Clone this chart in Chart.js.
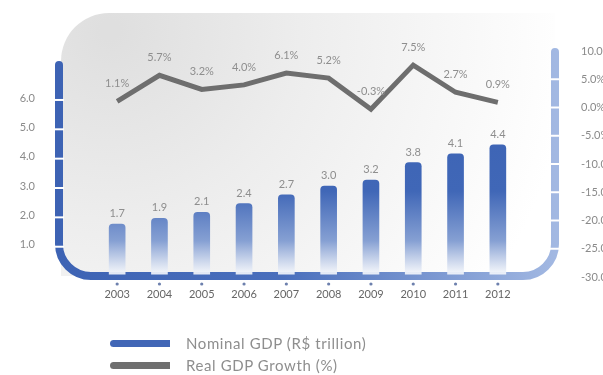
<!DOCTYPE html>
<html>
<head>
<meta charset="utf-8">
<script src="https://cdn.jsdelivr.net/npm/chart.js@4.4.1/dist/chart.umd.min.js"></script>
<style>
    body { margin: 0; background: #fff; }
    #wrap { position: relative; width: 603px; height: 375px; overflow: hidden; }
    .leyenda { position: absolute; left: 110px; font-family: Lato, sans-serif; font-size: 15px; letter-spacing: 0.6px; color: #8e8e8e; }
    .leyenda div { position: relative; height: 22px; line-height: 22px; padding-left: 76px; }
    .leyenda span { position: absolute; left: 0; top: 8px; width: 60px; height: 7px; border-radius: 4px 0 0 4px; }
</style>
</head>
<body>
<div id="wrap">
    <canvas id="grafico" width="603" height="375"></canvas>
    <div class="leyenda" style="top: 332px;">
        <div><span style="background:#4166b6"></span>Nominal GDP (R$ trillion)</div>
        <div><span style="background:#6f6f6f"></span>Real GDP Growth (%)</div>
    </div>
</div>
<script>
// Datos
const years = ['2003', '2004', '2005', '2006', '2007', '2008', '2009', '2010', '2011', '2012'];
const nominalGdp = [1.7, 1.9, 2.1, 2.4, 2.7, 3.0, 3.2, 3.8, 4.1, 4.4];
const realGrowth = [1.1, 5.7, 3.2, 4.0, 6.1, 5.2, -0.3, 7.5, 2.7, 0.9];
const leftTicks = [1, 2, 3, 4, 5, 6];
const rightTicks = [10, 5, 0, -5, -10, -15, -20, -25, -30];

const tickColor = '#8a8a8a';
const tickFont = { family: 'Lato, sans-serif', size: 11 };

/**
 * Fondo gris y marco azul con curvas
 */
const marcoPlugin = {
    id: 'marco',
    beforeDatasetsDraw(chart) {
        const { ctx, chartArea } = chart;
        const yL = chart.scales.y;
        const yR = chart.scales.y1;
        const xL = chartArea.left - 37;
        const xR = chartArea.right + 36;
        const yB = chartArea.bottom - 1;
        const r = 32;

        ctx.save();
        // Fondo gris
        const bg = ctx.createRadialGradient(110, 30, 10, 110, 30, 460);
        bg.addColorStop(0, '#dfdfdf');
        bg.addColorStop(0.4, '#ededed');
        bg.addColorStop(0.8, '#f9f9f9');
        bg.addColorStop(1, '#ffffff');
        ctx.beginPath();
        ctx.moveTo(xL + 2, yB);
        ctx.lineTo(xL + 2, 62);
        ctx.arcTo(xL + 2, 13, xL + 52, 13, 48);
        ctx.lineTo(xR, 13);
        ctx.lineTo(xR, yB);
        ctx.closePath();
        ctx.fillStyle = bg;
        ctx.fill();

        // Marco azul
        const grad = ctx.createLinearGradient(xL, 0, xR, 0);
        grad.addColorStop(0, '#3d63b4');
        grad.addColorStop(0.45, '#4a6fbc');
        grad.addColorStop(1, '#a2b8e2');
        ctx.beginPath();
        ctx.moveTo(xL, chartArea.top + 14);
        ctx.lineTo(xL, yB - r);
        ctx.arcTo(xL, yB, xL + r, yB, r);
        ctx.lineTo(xR - r, yB);
        ctx.arcTo(xR, yB, xR, yB - r, r);
        ctx.lineTo(xR, chartArea.top + 1);
        ctx.strokeStyle = grad;
        ctx.lineWidth = 8;
        ctx.lineCap = 'round';
        ctx.stroke();

        // Separaciones blancas
        ctx.strokeStyle = '#ffffff';
        ctx.lineWidth = 2;
        ctx.lineCap = 'butt';
        leftTicks.forEach(v => {
            const py = yL.getPixelForValue(v) + 2;
            ctx.beginPath();
            ctx.moveTo(xL - 5, py);
            ctx.lineTo(xL + 5, py);
            ctx.stroke();
        });
        rightTicks.slice(1, -1).forEach(v => {
            const py = yR.getPixelForValue(v);
            ctx.beginPath();
            ctx.moveTo(xR - 5, py);
            ctx.lineTo(xR + 5, py);
            ctx.stroke();
        });

        // Marcas de categoría
        ctx.fillStyle = '#6d80ad';
        years.forEach((y, i) => {
            const px = chart.scales.x.getPixelForValue(i);
            ctx.beginPath();
            ctx.arc(px, yB + 8, 1.6, 0, Math.PI * 2);
            ctx.fill();
        });
        ctx.restore();
    }
};

/**
 * Etiquetas de valores
 */
const etiquetasPlugin = {
    id: 'etiquetas',
    afterDatasetsDraw(chart) {
        const { ctx } = chart;
        ctx.save();
        ctx.font = '11px Lato, sans-serif';
        ctx.fillStyle = '#8e8e8e';
        ctx.textAlign = 'center';
        ctx.textBaseline = 'bottom';
        chart.getDatasetMeta(0).data.forEach((bar, i) => {
            ctx.fillText(nominalGdp[i].toFixed(1), bar.x, bar.y - 5);
        });
        chart.getDatasetMeta(1).data.forEach((pt, i) => {
            ctx.fillText(realGrowth[i].toFixed(1) + '%', pt.x, pt.y - 12);
        });
        ctx.restore();
    }
};

// Ancho fijo del eje vertical, sin margen extra arriba/abajo
function fijarEje(ancho) {
    return (s) => {
        s.width = ancho;
        s.paddingTop = 0;
        s.paddingBottom = 0;
    };
}

const ctx = document.getElementById('grafico');

new Chart(ctx, {
    type: 'bar',
    data: {
        labels: years,
        datasets: [{
            label: 'Nominal GDP (R$ trillion)',
            data: nominalGdp,
            yAxisID: 'y',
            barThickness: 16,
            borderRadius: { topLeft: 4, topRight: 4 },
            borderSkipped: 'bottom',
            backgroundColor: (c) => {
                const area = c.chart.chartArea;
                if (!area) return '#3d63b4';
                const g = c.chart.ctx.createLinearGradient(0, area.top, 0, area.bottom);
                g.addColorStop(0, '#3a61b3');
                g.addColorStop(0.62, '#4067b7');
                g.addColorStop(0.84, '#86a0d3');
                g.addColorStop(1, 'rgba(255,255,255,0.9)');
                return g;
            },
            order: 2
        }, {
            type: 'line',
            label: 'Real GDP Growth (%)',
            data: realGrowth,
            yAxisID: 'y1',
            borderColor: '#6e6e6e',
            borderWidth: 5,
            pointRadius: 0,
            tension: 0,
            borderJoinStyle: 'miter',
            order: 1
        }]
    },
    options: {
        responsive: false,
        animation: false,
        layout: { padding: { top: 51, bottom: 58, left: 0, right: 0 } },
        plugins: {
            legend: { display: false },
            tooltip: { enabled: false }
        },
        scales: {
            x: {
                offset: true,
                grid: { display: false },
                border: { display: false },
                ticks: { color: '#666', font: tickFont, padding: 3, maxRotation: 0 },
                afterFit: (s) => { s.height = 40; s.paddingLeft = 0; s.paddingRight = 0; }
            },
            y: {
                position: 'left',
                min: -0.1,
                max: 7.6,
                grid: { display: false },
                border: { display: false },
                afterBuildTicks: (s) => { s.ticks = leftTicks.map(v => ({ value: v })); },
                ticks: { color: tickColor, font: tickFont, padding: 53, callback: v => v.toFixed(1) },
                afterFit: fijarEje(96)
            },
            y1: {
                position: 'right',
                min: -30,
                max: 10,
                grid: { display: false },
                border: { display: false },
                afterBuildTicks: (s) => { s.ticks = rightTicks.map(v => ({ value: v })); },
                ticks: { color: tickColor, font: tickFont, padding: 54, callback: v => v.toFixed(1) + '%' },
                afterFit: fijarEje(84)
            }
        }
    },
    plugins: [marcoPlugin, etiquetasPlugin]
});
</script>
</body>
</html>
